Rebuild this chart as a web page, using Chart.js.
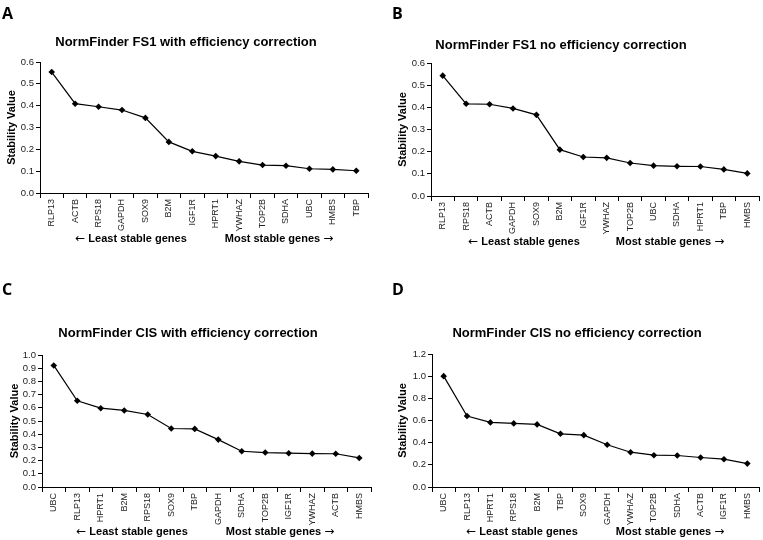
<!DOCTYPE html>
<html>
<head>
<meta charset="utf-8">
<script src="https://cdn.jsdelivr.net/npm/chart.js@4/dist/chart.umd.min.js"></script>
<style>
  html, body { margin: 0; padding: 0; background: #fff; }
  #wrap { position: relative; width: 763px; height: 540px; overflow: hidden; }
  .pane { position: absolute; }
  .letter { position: absolute; font-family: "Open Sans", "Liberation Sans", Arial, sans-serif; font-weight: bold; font-size: 16px; color: #000; line-height: 1; }
</style>
</head>
<body>
<div id="wrap">
  <canvas id="cA" class="pane" style="left:0;top:0" width="381" height="270"></canvas>
  <canvas id="cB" class="pane" style="left:381px;top:0" width="382" height="270"></canvas>
  <canvas id="cC" class="pane" style="left:0;top:270px" width="381" height="270"></canvas>
  <canvas id="cD" class="pane" style="left:381px;top:270px" width="382" height="270"></canvas>
  <div class="letter" style="left:2px;top:5px">A</div>
  <div class="letter" style="left:392px;top:5px">B</div>
  <div class="letter" style="left:2px;top:281px">C</div>
  <div class="letter" style="left:392px;top:281px">D</div>
</div>
<script>
// ---- Data ----
const genesA = ["RLP13","ACTB","RPS18","GAPDH","SOX9","B2M","IGF1R","HPRT1","YWHAZ","TOP2B","SDHA","UBC","HMBS","TBP"];
const valuesA = [0.554,0.409,0.395,0.380,0.344,0.234,0.191,0.169,0.145,0.128,0.125,0.111,0.108,0.102];

const genesB = ["RLP13","RPS18","ACTB","GAPDH","SOX9","B2M","IGF1R","YWHAZ","TOP2B","UBC","SDHA","HPRT1","TBP","HMBS"];
const valuesB = [0.543,0.416,0.414,0.395,0.366,0.209,0.176,0.172,0.149,0.137,0.134,0.133,0.120,0.102];

const genesC = ["UBC","RLP13","HPRT1","B2M","RPS18","SOX9","TBP","GAPDH","SDHA","TOP2B","IGF1R","YWHAZ","ACTB","HMBS"];
const valuesC = [0.921,0.653,0.597,0.580,0.549,0.443,0.440,0.359,0.271,0.261,0.256,0.253,0.252,0.220];

const genesD = ["UBC","RLP13","HPRT1","RPS18","B2M","TBP","SOX9","GAPDH","YWHAZ","TOP2B","SDHA","ACTB","IGF1R","HMBS"];
const valuesD = [1.000,0.640,0.583,0.574,0.565,0.480,0.468,0.381,0.314,0.287,0.284,0.266,0.251,0.211];

const titles = [
  "NormFinder FS1 with efficiency correction",
  "NormFinder FS1 no efficiency correction",
  "NormFinder CIS with efficiency correction",
  "NormFinder CIS no efficiency correction"
];
const yMaxes = [0.6, 0.6, 1.0, 1.2];
const ySteps = [0.1, 0.1, 0.1, 0.2];
const yAxisTitle = "Stability Value";
const leastText = "Least stable genes";
const mostText = "Most stable genes";
const arrowLeft = "\u2190";
const arrowRight = "\u2192";

// ---- Layout (per panel, canvas-local pixels) ----
const layouts = [
  { left: 40, top: 62, right: 368, bottom: 193, titleX: 186, titleY: 42, leastX: 131, mostX: 279, bandY: 239, yTitlePad: 5 },
  { left: 50, top: 63, right: 379, bottom: 196, titleX: 180, titleY: 45, leastX: 143, mostX: 289, bandY: 242, yTitlePad: 15 },
  { left: 42, top: 85, right: 371, bottom: 217, titleX: 188, titleY: 63, leastX: 132, mostX: 280, bandY: 262, yTitlePad: 8.5 },
  { left: 51, top: 84, right: 379, bottom: 217, titleX: 196, titleY: 63, leastX: 141, mostX: 289, bandY: 262, yTitlePad: 15 }
];

const FONT = "'Liberation Sans', Arial, Helvetica, sans-serif";
const ARROW_FONT = "12px 'DejaVu Sans', sans-serif";
const LABEL_FONT = "bold 11px " + FONT;

function drawParts(ctx, parts, cx, y) {
  // parts: [{text, font}], drawn consecutively, centered at cx
  let total = 0;
  parts.forEach(p => { ctx.font = p.font; p.w = ctx.measureText(p.text).width; total += p.w; });
  let x = cx - total / 2;
  ctx.textAlign = 'left';
  parts.forEach(p => { ctx.font = p.font; ctx.fillText(p.text, x, y); x += p.w; });
}

const textPlugin = {
  id: 'panelText',
  afterDraw(chart, args, opts) {
    const ctx = chart.ctx;
    const L = opts.layout;
    ctx.save();
    ctx.fillStyle = '#000';
    ctx.textAlign = 'center';
    ctx.textBaseline = 'middle';
    ctx.font = 'bold 13px ' + FONT;
    ctx.fillText(opts.title, L.titleX, L.titleY);
    drawParts(ctx, [
      { text: arrowLeft, font: ARROW_FONT },
      { text: " " + leastText, font: LABEL_FONT }
    ], L.leastX, L.bandY);
    drawParts(ctx, [
      { text: mostText + " ", font: LABEL_FONT },
      { text: arrowRight, font: ARROW_FONT }
    ], L.mostX, L.bandY);
    ctx.restore();
  }
};

function makeChart(id, labels, values, idx) {
  const L = layouts[idx];
  const canvas = document.getElementById(id);
  const W = canvas.width, H = canvas.height;
  return new Chart(canvas, {
    type: 'line',
    data: {
      labels: labels,
      datasets: [{
        data: values,
        borderColor: '#000',
        borderWidth: 1.2,
        backgroundColor: '#000',
        pointStyle: 'rectRot',
        pointRadius: 3.3,
        pointBorderWidth: 0,
        tension: 0,
        fill: false
      }]
    },
    plugins: [textPlugin],
    options: {
      responsive: false,
      animation: false,
      devicePixelRatio: 1,
      layout: { padding: { left: 0, top: L.top, right: W - L.right, bottom: 0 } },
      plugins: {
        legend: { display: false },
        title: { display: false },
        tooltip: { enabled: false },
        panelText: { title: titles[idx], layout: L }
      },
      scales: {
        x: {
          type: 'category',
          offset: true,
          grid: { display: true, drawOnChartArea: false, drawTicks: true, tickLength: 5, color: '#000', offset: true },
          border: { display: true, color: '#000', width: 1 },
          ticks: {
            autoSkip: false,
            maxRotation: 90, minRotation: 90,
            padding: 1,
            color: '#222',
            font: { family: FONT, size: 9 }
          },
          afterFit(scale) { scale.height = H - L.bottom; }
        },
        y: {
          min: 0, max: yMaxes[idx],
          grid: { display: true, drawOnChartArea: false, drawTicks: true, tickLength: 4, color: '#000' },
          border: { display: true, color: '#000', width: 1 },
          ticks: {
            stepSize: ySteps[idx],
            autoSkip: false,
            padding: 2,
            color: '#222',
            font: { family: FONT, size: 9.5 },
            callback: (v) => Number(v).toFixed(1)
          },
          title: {
            display: true,
            text: yAxisTitle,
            color: '#000',
            font: { family: FONT, size: 11, weight: 'bold' },
            padding: { top: L.yTitlePad, bottom: 0 }
          },
          afterFit(scale) { scale.width = L.left; }
        }
      }
    }
  });
}

makeChart('cA', genesA, valuesA, 0);
makeChart('cB', genesB, valuesB, 1);
makeChart('cC', genesC, valuesC, 2);
makeChart('cD', genesD, valuesD, 3);
</script>
</body>
</html>
